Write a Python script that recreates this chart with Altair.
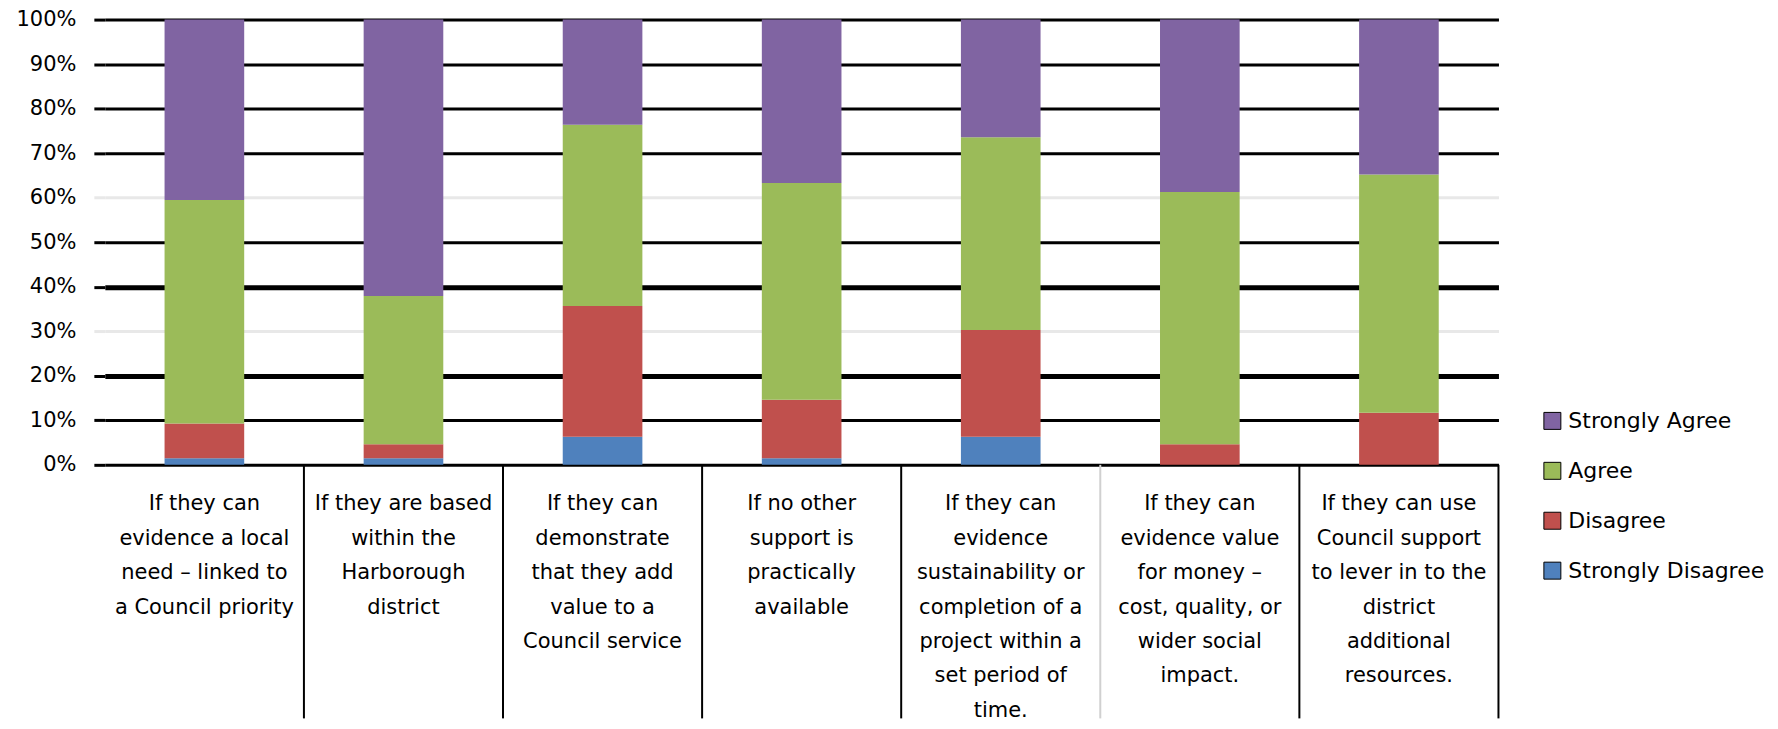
import altair as alt
import pandas as pd

categories = [
    "If they can|evidence a local|need – linked to|a Council priority",
    "If they are based|within the|Harborough|district",
    "If they can|demonstrate|that they add|value to a|Council service",
    "If no other|support is|practically|available",
    "If they can|evidence|sustainability or|completion of a|project within a|set period of|time.",
    "If they can|evidence value|for money –|cost, quality, or|wider social|impact.",
    "If they can use|Council support|to lever in to the|district|additional|resources.",
]
series = ["Strongly Agree", "Agree", "Disagree", "Strongly Disagree"]
colors = ["#8064A2", "#9BBB59", "#C0504D", "#4F81BD"]

strongly_disagree = [1.5, 1.5, 6.3, 1.5, 6.3, 0.0, 0.0]
disagree = [7.8, 3.1, 29.4, 13.1, 24.0, 4.6, 11.7]
agree = [50.2, 33.3, 40.7, 48.7, 43.3, 56.7, 53.5]
strongly_agree = [40.5, 62.1, 23.6, 36.7, 26.4, 38.7, 34.8]

y_ticks = [0, 0.1, 0.2, 0.3, 0.4, 0.5, 0.6, 0.7, 0.8, 0.9, 1.0]

rows = []
for i, c in enumerate(categories):
    for s, vals, order in [
        ("Strongly Disagree", strongly_disagree, 1),
        ("Disagree", disagree, 2),
        ("Agree", agree, 3),
        ("Strongly Agree", strongly_agree, 4),
    ]:
        rows.append({"cat": c, "series": s, "value": vals[i], "ord": order})
df = pd.DataFrame(rows)
df_cats = pd.DataFrame({"cat": categories})

W = 1396
H = 446
FONT = "DejaVu Sans"
STEP = W / len(categories)

faint = "abs(datum.value - 0.6) < 0.001 || abs(datum.value - 0.3) < 0.001"
thick = "abs(datum.value - 0.4) < 0.001 || abs(datum.value - 0.2) < 0.001"

x_scale = alt.Scale(paddingInner=0.6, paddingOuter=0.3)

x_axis = alt.Axis(
    labelExpr="split(datum.label, '|')",
    labelAngle=0,
    labelAlign="center",
    labelBaseline="top",
    labelLineHeight=34.5,
    labelPadding=28,
    labelLimit=400,
    labelOverlap=False,
    labelFont=FONT,
    labelFontSize=21,
    labelColor="black",
    domain=False,
    ticks=False,
    grid=False,
)

bars = alt.Chart(df).mark_bar().encode(
    x=alt.X("cat:N", sort=categories, scale=x_scale, title=None, axis=x_axis),
    y=alt.Y(
        "value:Q",
        stack="normalize",
        scale=alt.Scale(domain=[0, 1], nice=False),
        title=None,
        axis=alt.Axis(
            values=y_ticks,
            format=".0%",
            domain=False,
            ticks=True,
            tickSize=11,
            tickWidth=3,
            tickColor={"condition": {"test": faint, "value": "#e8e8e8"}, "value": "black"},
            labelPadding=18,
            labelFont=FONT,
            labelFontSize=21,
            labelColor="black",
            grid=True,
            gridColor={"condition": {"test": faint, "value": "#e8e8e8"}, "value": "black"},
            gridWidth={"condition": {"test": thick, "value": 5}, "value": 3},
            gridOpacity=1,
        ),
    ),
    color=alt.Color(
        "series:N",
        scale=alt.Scale(domain=series, range=colors),
        title=None,
        legend=alt.Legend(
            orient="none",
            legendX=1439,
            legendY=391,
            symbolType="square",
            symbolSize=289,
            symbolStrokeColor="black",
            symbolStrokeWidth=1,
            symbolOpacity=1,
            labelFont=FONT,
            labelFontSize=22,
            labelColor="black",
            labelOffset=5,
            rowPadding=28,
            labelLimit=400,
        ),
    ),
    order=alt.Order("ord:Q", sort="ascending"),
)

dividers = alt.Chart(df_cats).mark_rule(
    strokeWidth=2, xOffset=0.3 * STEP
).encode(
    x=alt.X("cat:N", sort=categories, scale=x_scale, bandPosition=1, title=None, axis=x_axis),
    y=alt.value(H),
    y2=alt.value(H + 254),
    color=alt.condition(
        alt.datum.cat == categories[4], alt.value("#d0d0d0"), alt.value("black")
    ),
)

chart = (
    alt.layer(bars, dividers)
    .properties(width=W, height=H, padding={"left": 7, "top": 0, "right": 5, "bottom": 0})
    .configure_view(strokeWidth=0)
)

chart.save("out.html", embed_options={"renderer": "svg", "actions": False})
